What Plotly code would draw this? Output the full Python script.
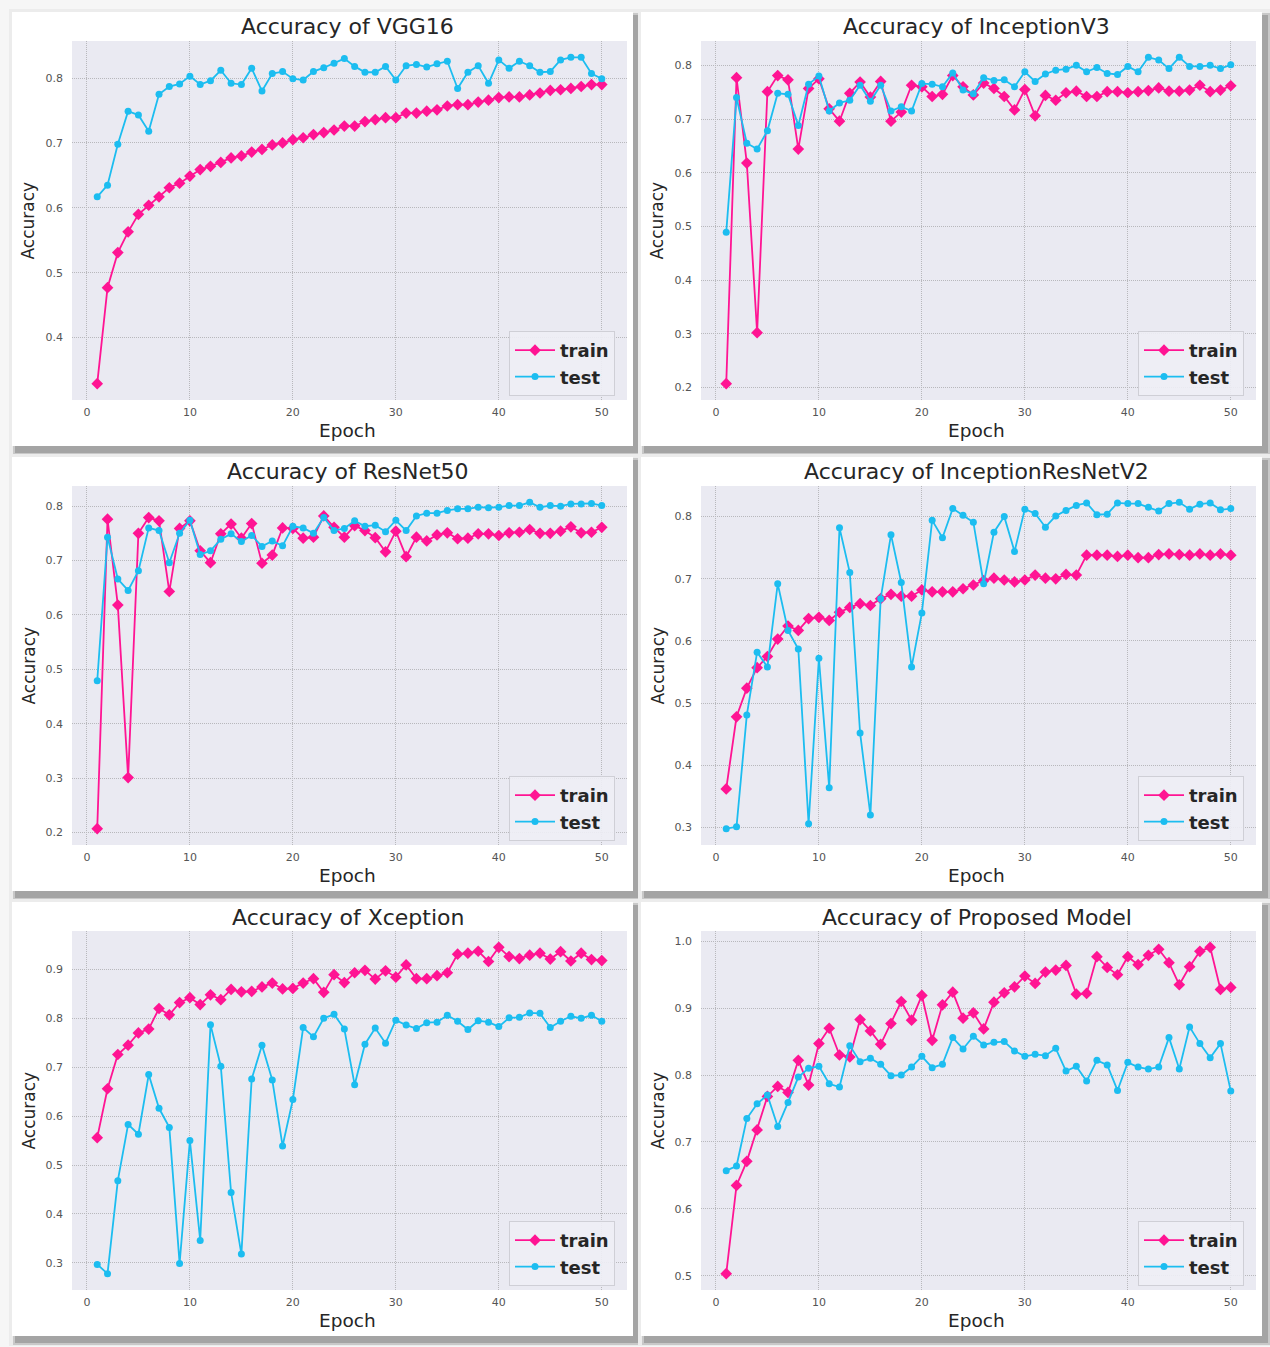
import plotly.graph_objects as go

epochs = list(range(1, 51))

vgg16_train = [0.329, 0.477, 0.531, 0.563, 0.590, 0.604, 0.617, 0.631, 0.638, 0.649,
               0.659, 0.664, 0.670, 0.677, 0.680, 0.686, 0.690, 0.697, 0.700, 0.705,
               0.708, 0.713, 0.716, 0.720, 0.726, 0.726, 0.733, 0.736, 0.739, 0.739,
               0.746, 0.746, 0.749, 0.751, 0.757, 0.759, 0.759, 0.763, 0.766, 0.770,
               0.771, 0.771, 0.774, 0.777, 0.781, 0.782, 0.784, 0.787, 0.790, 0.790]
vgg16_test = [0.617, 0.635, 0.698, 0.749, 0.743, 0.718, 0.775, 0.787, 0.791, 0.803,
              0.790, 0.796, 0.812, 0.792, 0.790, 0.815, 0.780, 0.807, 0.810, 0.799,
              0.797, 0.810, 0.816, 0.823, 0.830, 0.818, 0.809, 0.809, 0.818, 0.797,
              0.819, 0.821, 0.817, 0.822, 0.826, 0.784, 0.809, 0.819, 0.792, 0.828,
              0.815, 0.826, 0.819, 0.809, 0.810, 0.828, 0.832, 0.832, 0.807, 0.799]

inceptionv3_train = [0.207, 0.777, 0.618, 0.302, 0.751, 0.781, 0.773, 0.644, 0.757, 0.775,
                     0.719, 0.696, 0.748, 0.769, 0.741, 0.770, 0.696, 0.713, 0.763, 0.760,
                     0.742, 0.746, 0.781, 0.760, 0.745, 0.767, 0.757, 0.742, 0.717, 0.755,
                     0.706, 0.744, 0.735, 0.749, 0.752, 0.742, 0.742, 0.751, 0.751, 0.749,
                     0.751, 0.753, 0.758, 0.752, 0.752, 0.754, 0.763, 0.751, 0.754, 0.762]
inceptionv3_test = [0.489, 0.740, 0.655, 0.644, 0.678, 0.748, 0.746, 0.688, 0.765, 0.780,
                    0.715, 0.730, 0.735, 0.763, 0.733, 0.763, 0.715, 0.723, 0.715, 0.766,
                    0.765, 0.760, 0.786, 0.754, 0.747, 0.777, 0.772, 0.773, 0.760, 0.788,
                    0.770, 0.784, 0.791, 0.793, 0.800, 0.788, 0.796, 0.785, 0.783, 0.798,
                    0.788, 0.815, 0.810, 0.794, 0.815, 0.798, 0.798, 0.800, 0.794, 0.801]

resnet50_train = [0.207, 0.776, 0.618, 0.301, 0.750, 0.779, 0.773, 0.643, 0.759, 0.773,
                  0.718, 0.696, 0.749, 0.767, 0.741, 0.768, 0.695, 0.710, 0.760, 0.759,
                  0.741, 0.743, 0.782, 0.761, 0.743, 0.764, 0.755, 0.742, 0.716, 0.754,
                  0.707, 0.743, 0.736, 0.747, 0.751, 0.740, 0.741, 0.749, 0.749, 0.746,
                  0.751, 0.752, 0.757, 0.750, 0.750, 0.754, 0.762, 0.751, 0.752, 0.761]
resnet50_test = [0.479, 0.743, 0.666, 0.645, 0.681, 0.760, 0.755, 0.696, 0.750, 0.774,
                 0.711, 0.718, 0.739, 0.749, 0.735, 0.746, 0.726, 0.736, 0.727, 0.763,
                 0.760, 0.750, 0.779, 0.755, 0.759, 0.773, 0.763, 0.765, 0.753, 0.774,
                 0.755, 0.782, 0.787, 0.787, 0.792, 0.795, 0.795, 0.798, 0.797, 0.798,
                 0.801, 0.801, 0.807, 0.798, 0.801, 0.800, 0.804, 0.804, 0.805, 0.801]

irv2_train = [0.362, 0.478, 0.524, 0.557, 0.575, 0.603, 0.624, 0.617, 0.636, 0.638,
              0.633, 0.646, 0.654, 0.660, 0.657, 0.668, 0.675, 0.672, 0.672, 0.682,
              0.679, 0.679, 0.679, 0.684, 0.690, 0.697, 0.701, 0.698, 0.695, 0.698,
              0.706, 0.701, 0.700, 0.707, 0.706, 0.738, 0.738, 0.738, 0.736, 0.738,
              0.734, 0.734, 0.739, 0.740, 0.739, 0.738, 0.740, 0.738, 0.740, 0.738]
irv2_test = [0.298, 0.301, 0.481, 0.582, 0.558, 0.692, 0.617, 0.587, 0.306, 0.572,
             0.364, 0.782, 0.710, 0.452, 0.320, 0.668, 0.771, 0.694, 0.558, 0.645,
             0.794, 0.766, 0.813, 0.802, 0.791, 0.692, 0.775, 0.800, 0.744, 0.812,
             0.805, 0.783, 0.801, 0.810, 0.818, 0.822, 0.803, 0.804, 0.822, 0.821,
             0.821, 0.815, 0.809, 0.821, 0.823, 0.812, 0.820, 0.822, 0.811, 0.813]

xception_train = [0.556, 0.656, 0.726, 0.745, 0.770, 0.778, 0.820, 0.807, 0.832, 0.842,
                  0.828, 0.848, 0.838, 0.859, 0.854, 0.855, 0.864, 0.872, 0.860, 0.861,
                  0.872, 0.881, 0.853, 0.889, 0.873, 0.893, 0.898, 0.880, 0.897, 0.884,
                  0.909, 0.881, 0.881, 0.887, 0.893, 0.931, 0.933, 0.937, 0.916, 0.945,
                  0.926, 0.922, 0.929, 0.933, 0.921, 0.936, 0.917, 0.933, 0.920, 0.918]
xception_test = [0.297, 0.278, 0.468, 0.583, 0.563, 0.685, 0.616, 0.577, 0.299, 0.550,
                 0.346, 0.787, 0.702, 0.444, 0.318, 0.676, 0.745, 0.674, 0.539, 0.634,
                 0.781, 0.762, 0.800, 0.808, 0.778, 0.664, 0.747, 0.780, 0.749, 0.796,
                 0.786, 0.779, 0.791, 0.792, 0.806, 0.794, 0.777, 0.795, 0.792, 0.783,
                 0.801, 0.802, 0.811, 0.810, 0.781, 0.794, 0.804, 0.800, 0.806, 0.794]

proposed_train = [0.503, 0.635, 0.671, 0.718, 0.768, 0.783, 0.774, 0.822, 0.785, 0.847,
                  0.870, 0.830, 0.827, 0.883, 0.866, 0.846, 0.877, 0.910, 0.882, 0.919,
                  0.852, 0.905, 0.924, 0.885, 0.893, 0.869, 0.909, 0.923, 0.932, 0.948,
                  0.937, 0.954, 0.957, 0.964, 0.921, 0.922, 0.977, 0.961, 0.950, 0.977,
                  0.965, 0.979, 0.988, 0.968, 0.935, 0.962, 0.985, 0.991, 0.928, 0.931]
proposed_test = [0.657, 0.664, 0.735, 0.757, 0.770, 0.723, 0.759, 0.797, 0.810, 0.813,
                 0.787, 0.782, 0.844, 0.820, 0.825, 0.816, 0.799, 0.800, 0.812, 0.828,
                 0.811, 0.816, 0.856, 0.839, 0.858, 0.845, 0.849, 0.850, 0.836, 0.828,
                 0.831, 0.829, 0.840, 0.806, 0.813, 0.791, 0.822, 0.815, 0.777, 0.819,
                 0.812, 0.809, 0.812, 0.856, 0.809, 0.872, 0.847, 0.826, 0.847, 0.776]

titles = ["Accuracy of VGG16", "Accuracy of InceptionV3", "Accuracy of ResNet50",
          "Accuracy of InceptionResNetV2", "Accuracy of Xception", "Accuracy of Proposed Model"]
train_series = [vgg16_train, inceptionv3_train, resnet50_train, irv2_train, xception_train, proposed_train]
test_series = [vgg16_test, inceptionv3_test, resnet50_test, irv2_test, xception_test, proposed_test]
x_ticks = [0, 10, 20, 30, 40, 50]
legend_names = ["train", "test"]

W, H = 1270, 1347
FONT = "DejaVu Sans"
TRAIN_C = "#FF1493"
TEST_C = "#1CBDF0"
BG = "#EAEAF2"


def fx(p):
    return p / W


def fy(p):
    return 1 - p / H


plot_x = [(72, 627), (701, 1256)]
plot_y = [(41, 400), (486, 845), (931, 1290)]
card_x = [(12, 633), (641, 1262)]
card_y = [(12, 446), (457, 891), (902, 1336)]

fig = go.Figure()
shapes = []
annotations = []
layout = {}

# card shadows and cards
for r in range(3):
    for c in range(2):
        x0, x1 = card_x[c]
        y0, y1 = card_y[r]
        for dx0, dy0, dx1, dy1, col in [(-3, -3, 9, 10, "#ececec"),
                                        (1, 1, 8, 9, "#c8c8c8"),
                                        (3, 3, 6, 7, "#a4a4a4")]:
            shapes.append(dict(type="rect", xref="paper", yref="paper",
                               x0=fx(x0 + dx0), x1=fx(x1 + dx1), y0=fy(y0 + dy0), y1=fy(y1 + dy1),
                               fillcolor=col, line=dict(width=0), layer="below"))
        shapes.append(dict(type="rect", xref="paper", yref="paper",
                           x0=fx(x0), x1=fx(x1), y0=fy(y0), y1=fy(y1),
                           fillcolor="white", line=dict(width=0), layer="below"))

for i in range(6):
    r, c = divmod(i, 2)
    n = i + 1
    xa = "x" if n == 1 else f"x{n}"
    ya = "y" if n == 1 else f"y{n}"
    lg = "legend" if n == 1 else f"legend{n}"
    tr, te = train_series[i], test_series[i]
    lo = min(min(tr), min(te))
    hi = max(max(tr), max(te))
    pad = 0.05 * (hi - lo)
    yr = [lo - pad, hi + pad]
    xr = [1 - 0.05 * 49, 50 + 0.05 * 49]

    fig.add_trace(go.Scatter(x=epochs, y=tr, mode="lines+markers", name=legend_names[0],
                             xaxis=xa, yaxis=ya, legend=lg,
                             line=dict(color=TRAIN_C, width=1.8),
                             marker=dict(symbol="diamond", size=9, color=TRAIN_C)))
    fig.add_trace(go.Scatter(x=epochs, y=te, mode="lines+markers", name=legend_names[1],
                             xaxis=xa, yaxis=ya, legend=lg,
                             line=dict(color=TEST_C, width=1.8),
                             marker=dict(symbol="circle", size=7, color=TEST_C)))

    px0, px1 = plot_x[c]
    py0, py1 = plot_y[r]
    xkey = "xaxis" if n == 1 else f"xaxis{n}"
    ykey = "yaxis" if n == 1 else f"yaxis{n}"
    layout[xkey] = dict(domain=[fx(px0), fx(px1)], anchor=ya, range=xr,
                        tickvals=x_ticks, showgrid=True, gridcolor="#b8b8bc", griddash="1px,1px",
                        gridwidth=1, zeroline=False, showline=False, ticks="",
                        ticklabelstandoff=4,
                        tickfont=dict(family=FONT, size=11, color="#555555"))
    layout[ykey] = dict(domain=[fy(py1), fy(py0)], anchor=xa, range=yr,
                        dtick=0.1, tick0=0, tickformat=".1f", showgrid=True,
                        gridcolor="#b8b8bc", griddash="1px,1px", gridwidth=1,
                        zeroline=False, showline=False, ticks="", ticklabelstandoff=8,
                        tickfont=dict(family=FONT, size=11, color="#555555"))
    # plot background
    shapes.append(dict(type="rect", xref="paper", yref="paper",
                       x0=fx(px0), x1=fx(px1), y0=fy(py1), y1=fy(py0),
                       fillcolor=BG, line=dict(width=0), layer="below"))
    layout[lg] = dict(x=fx(px1 - 12), y=fy(py1 - 4), xanchor="right", yanchor="bottom",
                      bgcolor="rgba(238,238,245,0.9)", bordercolor="#cfcfd6", borderwidth=1,
                      font=dict(family=FONT, size=18, color="#262626", weight="bold"),
                      itemwidth=40, tracegroupgap=0)
    cx = (px0 + px1) / 2
    annotations.append(dict(text=titles[i], x=fx(cx - 2), y=fy(py0 - 14), xref="paper", yref="paper",
                            showarrow=False, xanchor="center", yanchor="middle",
                            font=dict(family=FONT, size=22, color="#262626")))
    annotations.append(dict(text="Epoch", x=fx(cx - 2), y=fy(py1 + 30), xref="paper", yref="paper",
                            showarrow=False, xanchor="center", yanchor="middle",
                            font=dict(family=FONT, size=18.5, color="#262626")))
    annotations.append(dict(text="Accuracy", x=fx(px0 - 44), y=fy((py0 + py1) / 2),
                            xref="paper", yref="paper", textangle=-90,
                            showarrow=False, xanchor="center", yanchor="middle",
                            font=dict(family=FONT, size=17, color="#262626")))

fig.update_layout(width=W, height=H, margin=dict(l=0, r=0, t=0, b=0),
                  paper_bgcolor="#f6f6f6", plot_bgcolor=BG,
                  shapes=shapes, annotations=annotations, **layout)

fig.write_html("out.html", config={"displayModeBar": False},
               post_script="document.body.style.margin='0';document.body.style.overflow='hidden';")
